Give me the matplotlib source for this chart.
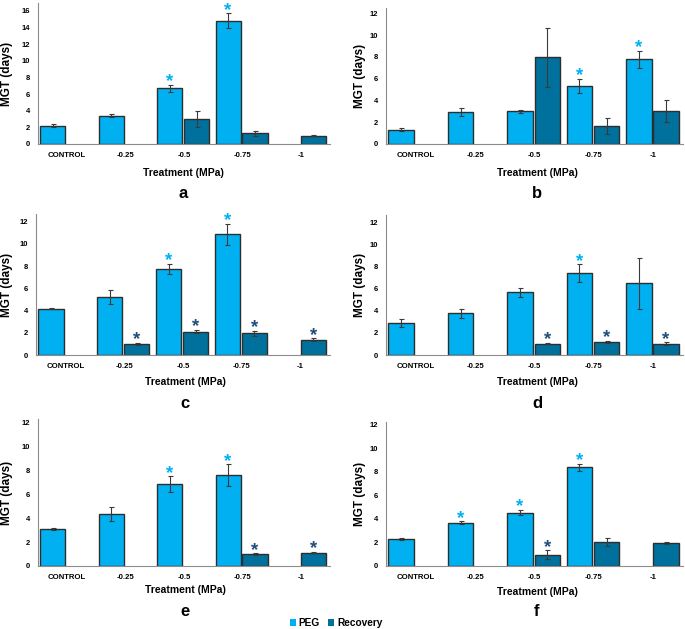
import numpy as np
import matplotlib
matplotlib.use("Agg")
import matplotlib.pyplot as plt
from matplotlib.patches import Patch

plt.rcParams['font.family'] = ['Liberation Sans', 'DejaVu Sans']
plt.rcParams['font.weight'] = 'bold'

categories = ["CONTROL", "-0.25", "-0.5", "-0.75", "-1"]
nan = np.nan

# Panel a
peg_a = [2.2, 3.4, 6.7, 14.8, nan]
peg_err_a = [0.15, 0.15, 0.4, 0.9, 0]
rec_a = [nan, nan, 3.0, 1.3, 1.0]
rec_err_a = [0, 0, 1.0, 0.3, 0.05]
peg_star_a = [False, False, True, True, False]
rec_star_a = [False, False, False, False, False]

# Panel b
peg_b = [1.3, 2.93, 3.0, 5.3, 7.76]
peg_err_b = [0.15, 0.4, 0.15, 0.65, 0.8]
rec_b = [nan, nan, 7.97, 1.65, 3.0]
rec_err_b = [0, 0, 2.7, 0.7, 1.0]
peg_star_b = [False, False, False, True, True]
rec_star_b = [False, False, False, False, False]

# Panel c
peg_c = [4.18, 5.26, 7.79, 10.86, nan]
peg_err_c = [0.03, 0.63, 0.45, 0.96, 0]
rec_c = [nan, 1.02, 2.1, 1.95, 1.38]
rec_err_c = [0, 0.1, 0.15, 0.2, 0.12]
peg_star_c = [False, False, True, True, False]
rec_star_c = [False, True, True, True, True]

# Panel d
peg_d = [2.9, 3.75, 5.65, 7.38, 6.47]
peg_err_d = [0.38, 0.45, 0.4, 0.8, 2.3]
rec_d = [nan, nan, 1.03, 1.18, 1.03]
rec_err_d = [0, 0, 0.08, 0.12, 0.1]
peg_star_d = [False, False, False, True, False]
rec_star_d = [False, False, True, True, True]

# Panel e
peg_e = [3.13, 4.36, 6.85, 7.61, nan]
peg_err_e = [0.08, 0.6, 0.65, 0.9, 0]
rec_e = [nan, nan, nan, 0.98, 1.12]
rec_err_e = [0, 0, 0, 0.08, 0.06]
peg_star_e = [False, False, True, True, False]
rec_star_e = [False, False, False, True, True]

# Panel f
peg_f = [2.33, 3.69, 4.54, 8.37, nan]
peg_err_f = [0.08, 0.1, 0.25, 0.28, 0]
rec_f = [nan, nan, 0.96, 2.01, 1.96]
rec_err_f = [0, 0, 0.37, 0.35, 0.12]
peg_star_f = [False, True, True, True, False]
rec_star_f = [False, False, True, False, False]

panel_labels = ["a", "b", "c", "d", "e", "f"]
yticks_a = [0, 2, 4, 6, 8, 10, 12, 14, 16]
yticks_other = [0, 2, 4, 6, 8, 10, 12]

PEG_C = "#00B0F0"
REC_C = "#00709C"
STAR_REC = "#1F4E79"
EDGE = "#2E2E2E"

W, H = 685, 629
fig = plt.figure(figsize=(W / 100, H / 100), dpi=100)

# layout: (left px, right px, zero-line px, top px, ymax, xlabel xy, letter xy, ylabel x)
layouts = [
    (38, 330, 144, 3, 16.96, (183, 173), (183, 194), 7),
    (386, 683, 144, 8, 12.48, (537, 173), (537, 194), 360),
    (36, 330, 355, 214, 12.7, (185, 382), (185, 403), 7),
    (386, 683, 355, 215, 12.65, (537, 382), (537, 403), 360),
    (38, 330, 566, 419, 12.3, (185, 590), (185, 612), 7),
    (386, 683, 566, 422, 12.23, (537, 592), (537, 612), 360),
]

data = [
    (peg_a, peg_err_a, rec_a, rec_err_a, peg_star_a, rec_star_a, yticks_a),
    (peg_b, peg_err_b, rec_b, rec_err_b, peg_star_b, rec_star_b, yticks_other),
    (peg_c, peg_err_c, rec_c, rec_err_c, peg_star_c, rec_star_c, yticks_other),
    (peg_d, peg_err_d, rec_d, rec_err_d, peg_star_d, rec_star_d, yticks_other),
    (peg_e, peg_err_e, rec_e, rec_err_e, peg_star_e, rec_star_e, yticks_other),
    (peg_f, peg_err_f, rec_f, rec_err_f, peg_star_f, rec_star_f, yticks_other),
]

x = np.arange(len(categories))
bw = 0.43
off_peg, off_rec = -0.245, 0.215

for (lay, d, lab) in zip(layouts, data, panel_labels):
    l, r, zero, top, ymax, xl, lt, yl = lay
    ax = fig.add_axes([l / W, 1 - zero / H, (r - l) / W, (zero - top) / H])
    peg, pe, rec, re_, ps, rs, yt = d
    for series, err, stars, off, col, scol in [
        (peg, pe, ps, off_peg, PEG_C, PEG_C),
        (rec, re_, rs, off_rec, REC_C, STAR_REC),
    ]:
        vals = np.array(series, dtype=float)
        errs = np.array(err, dtype=float)
        m = ~np.isnan(vals)
        xs = x[m] + off
        ax.bar(xs, vals[m], width=bw, color=col, edgecolor=EDGE, linewidth=1.0, zorder=2)
        ax.errorbar(xs, vals[m], yerr=errs[m], fmt='none', ecolor='#3A3A3A',
                    elinewidth=0.8, capsize=1.8, capthick=0.8, zorder=3)
        for xi, v, e, s in zip(xs, vals[m], errs[m], np.array(stars)[m]):
            if s:
                ax.annotate("*", (xi, v + e), xytext=(0, -1.0), textcoords='offset points',
                            ha='center', va='baseline', fontsize=13.5, fontweight='bold',
                            color=scol, zorder=4)
    ax.set_xlim(-0.5, len(categories) - 0.5)
    ax.set_ylim(0, ymax)
    ax.set_yticks(yt)
    ax.set_yticklabels([str(t) for t in yt], fontsize=5.5, fontweight='bold')
    ax.set_xticks(x)
    ax.set_xticklabels(categories, fontsize=5.6, fontweight='bold')
    ax.tick_params(axis='both', length=0)
    ax.tick_params(axis='y', pad=5.5)
    ax.tick_params(axis='x', pad=6)
    for sp in ['top', 'right']:
        ax.spines[sp].set_visible(False)
    ax.spines['left'].set_color('#8C8C8C')
    ax.spines['bottom'].set_color('#8C8C8C')
    ax.spines['left'].set_linewidth(0.8)
    ax.spines['bottom'].set_linewidth(0.8)
    fig.text(xl[0] / W, 1 - xl[1] / H, "Treatment (MPa)", ha='center', va='center',
             fontsize=7.5, fontweight='bold')
    fig.text(lt[0] / W, 1 - lt[1] / H, lab, ha='center', va='center',
             fontsize=12, fontweight='bold')
    fig.text(yl / W, 1 - ((zero + top) / 2) / H, "MGT (days)", ha='center', va='center',
             rotation=90, fontsize=8.5, fontweight='bold')

handles = [Patch(facecolor=PEG_C, edgecolor='none', label="PEG"),
           Patch(facecolor=REC_C, edgecolor='none', label="Recovery")]
fig.legend(handles=handles, loc='center', bbox_to_anchor=(336 / W, 1 - 623 / H), ncol=2,
           frameon=False, prop={'size': 7.3, 'weight': 'bold'}, handlelength=0.6,
           handleheight=0.6, handletextpad=0.3, columnspacing=0.8, borderpad=0)

fig.savefig("out.png", dpi=100)
